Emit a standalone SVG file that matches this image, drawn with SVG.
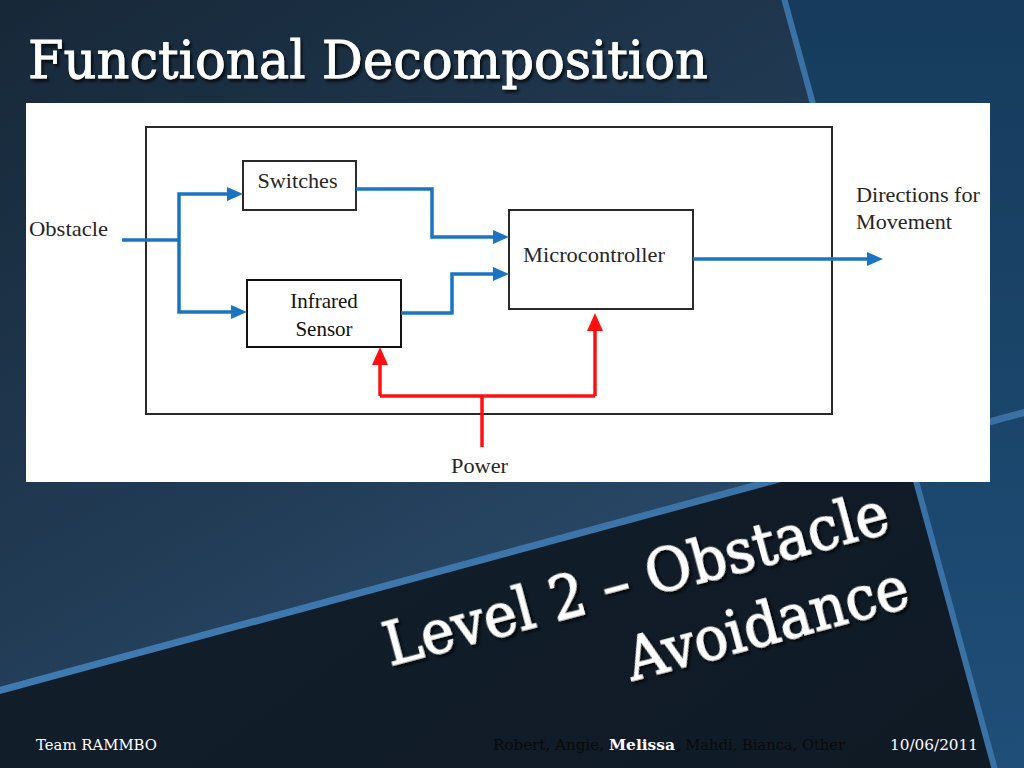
<svg xmlns="http://www.w3.org/2000/svg" width="1024" height="768" viewBox="0 0 1024 768">
<defs>
  <linearGradient id="gUpper" x1="0" y1="0" x2="0.75" y2="1">
    <stop offset="0" stop-color="#172838"/>
    <stop offset="0.6" stop-color="#223c56"/>
    <stop offset="1" stop-color="#2d4f70"/>
  </linearGradient>
  <linearGradient id="gLower" x1="0" y1="0" x2="1" y2="1">
    <stop offset="0" stop-color="#13202d"/>
    <stop offset="1" stop-color="#0f1a25"/>
  </linearGradient>
  <linearGradient id="gRight" x1="0" y1="0" x2="0" y2="1">
    <stop offset="0" stop-color="#163b5c"/>
    <stop offset="1" stop-color="#1f4e78"/>
  </linearGradient>
  <linearGradient id="gDiag" x1="0" y1="0" x2="1" y2="0">
    <stop offset="0" stop-color="#3f7bb2"/>
    <stop offset="1" stop-color="#3a70a3"/>
  </linearGradient>
  <filter id="shadow" x="-5%" y="-20%" width="110%" height="150%">
    <feDropShadow dx="2" dy="3" stdDeviation="1.5" flood-color="#000" flood-opacity="0.75"/>
  </filter>
  <marker id="arrowBlue" markerUnits="userSpaceOnUse" markerWidth="16" markerHeight="14" refX="8" refY="7" orient="auto">
    <path d="M0,0 L16,7 L0,14 z" fill="#1a74c2"/>
  </marker>
  <marker id="arrowRed" markerUnits="userSpaceOnUse" markerWidth="18" markerHeight="16" refX="9" refY="8" orient="auto">
    <path d="M0,0 L18,8 L0,16 z" fill="#ff1010"/>
  </marker>
  <style>
    .blue { fill: none; stroke: #1a74c2; stroke-width: 3.5; }
    .red { fill: none; stroke: #ff1010; stroke-width: 3.5; }
    .box { fill: #ffffff; stroke: #2a2a2a; stroke-width: 2; }
    .lbl { font-family: "Liberation Serif", "Times New Roman", serif; font-size: 21px; fill: #262626; }
    .slab { font-family: "DejaVu Serif", "Liberation Serif", serif; fill: #ffffff; stroke: #ffffff; }
    .foot { font-family: "DejaVu Serif", "Liberation Serif", serif; font-size: 14px; }
  </style>
</defs>

<!-- background -->
<g id="background">
  <rect x="0" y="0" width="1024" height="768" fill="url(#gLower)"/>
  <polygon points="0,0 784,0 905,446 0,690" fill="url(#gUpper)"/>
  <polygon points="784,0 1024,0 1024,768 995,768" fill="url(#gRight)"/>
  <line x1="784" y1="-2" x2="995" y2="770" stroke="#3a72a6" stroke-width="6"/>
  <line x1="-2" y1="691" x2="1026" y2="412" stroke="url(#gDiag)" stroke-width="7"/>
</g>

<!-- title -->
<text id="title" class="slab" x="28" y="78" font-size="53" stroke-width="0.8" filter="url(#shadow)" textLength="680" lengthAdjust="spacingAndGlyphs">Functional Decomposition</text>

<!-- white picture panel -->
<rect id="panel" x="26" y="103" width="964" height="379" fill="#ffffff"/>

<!-- diagram nodes -->
<g id="system-boundary">
  <rect x="146" y="127" width="686" height="287" fill="none" stroke="#2a2a2a" stroke-width="2"/>
</g>
<g id="node-switches">
  <rect class="box" x="243" y="161" width="113" height="49"/>
  <text class="lbl" x="297.5" y="188" text-anchor="middle" textLength="80" lengthAdjust="spacingAndGlyphs">Switches</text>
</g>
<g id="node-infrared">
  <rect class="box" x="247" y="280" width="154" height="67" style="stroke:#111"/>
  <text class="lbl" x="324" y="308" text-anchor="middle" style="fill:#111">Infrared</text>
  <text class="lbl" x="324" y="336" text-anchor="middle" style="fill:#111">Sensor</text>
</g>
<g id="node-microcontroller">
  <rect class="box" x="509" y="210" width="184" height="99"/>
  <text class="lbl" x="523" y="262" textLength="142" lengthAdjust="spacingAndGlyphs">Microcontroller</text>
</g>
<g id="label-obstacle">
  <text class="lbl" x="29" y="236" textLength="79" lengthAdjust="spacingAndGlyphs">Obstacle</text>
</g>
<g id="label-power">
  <text class="lbl" x="451" y="473" textLength="57" lengthAdjust="spacingAndGlyphs">Power</text>
</g>
<g id="label-directions">
  <text class="lbl" x="856" y="202" textLength="124" lengthAdjust="spacingAndGlyphs">Directions for</text>
  <text class="lbl" x="856" y="229" textLength="96" lengthAdjust="spacingAndGlyphs">Movement</text>
</g>

<!-- connectors -->
<g id="connectors">
  <path class="blue" d="M122,240 H179"/>
  <path class="blue" d="M179,240 V194 H235" marker-end="url(#arrowBlue)"/>
  <path class="blue" d="M179,240 V312 H239" marker-end="url(#arrowBlue)"/>
  <path class="blue" d="M356,189 H432 V237 H501" marker-end="url(#arrowBlue)"/>
  <path class="blue" d="M401,313 H452 V274 H501" marker-end="url(#arrowBlue)"/>
  <path class="blue" d="M693,259 H875" marker-end="url(#arrowBlue)"/>
  <path class="red" d="M482,447 V396"/>
  <path class="red" d="M380,396 H595"/>
  <path class="red" d="M380,396 V356" marker-end="url(#arrowRed)"/>
  <path class="red" d="M595,396 V322" marker-end="url(#arrowRed)"/>
</g>

<!-- rotated slide title -->
<g id="slide-title" transform="translate(390,666) rotate(-15)" filter="url(#shadow)">
  <text class="slab" x="0" y="0" font-size="60" stroke-width="1.2" textLength="520" lengthAdjust="spacingAndGlyphs">Level 2 – Obstacle</text>
  <text class="slab" x="230" y="77" font-size="60" stroke-width="1.2" textLength="290" lengthAdjust="spacingAndGlyphs">Avoidance</text>
</g>

<!-- footer -->
<g id="footer">
  <text class="foot" x="36" y="750" fill="#ffffff" textLength="121" lengthAdjust="spacingAndGlyphs">Team RAMMBO</text>
  <text class="foot" x="493" y="750" fill="#0a0a0a" textLength="111" lengthAdjust="spacingAndGlyphs">Robert, Angie,</text>
  <text class="foot" x="609" y="750" fill="#ffffff" font-weight="bold" textLength="66" lengthAdjust="spacingAndGlyphs">Melissa</text>
  <text class="foot" x="676" y="750" fill="#0a0a0a" textLength="169" lengthAdjust="spacingAndGlyphs">, Mahdi, Bianca, Other</text>
  <text class="foot" x="890" y="750" fill="#ffffff" textLength="88" lengthAdjust="spacingAndGlyphs">10/06/2011</text>
</g>
</svg>
